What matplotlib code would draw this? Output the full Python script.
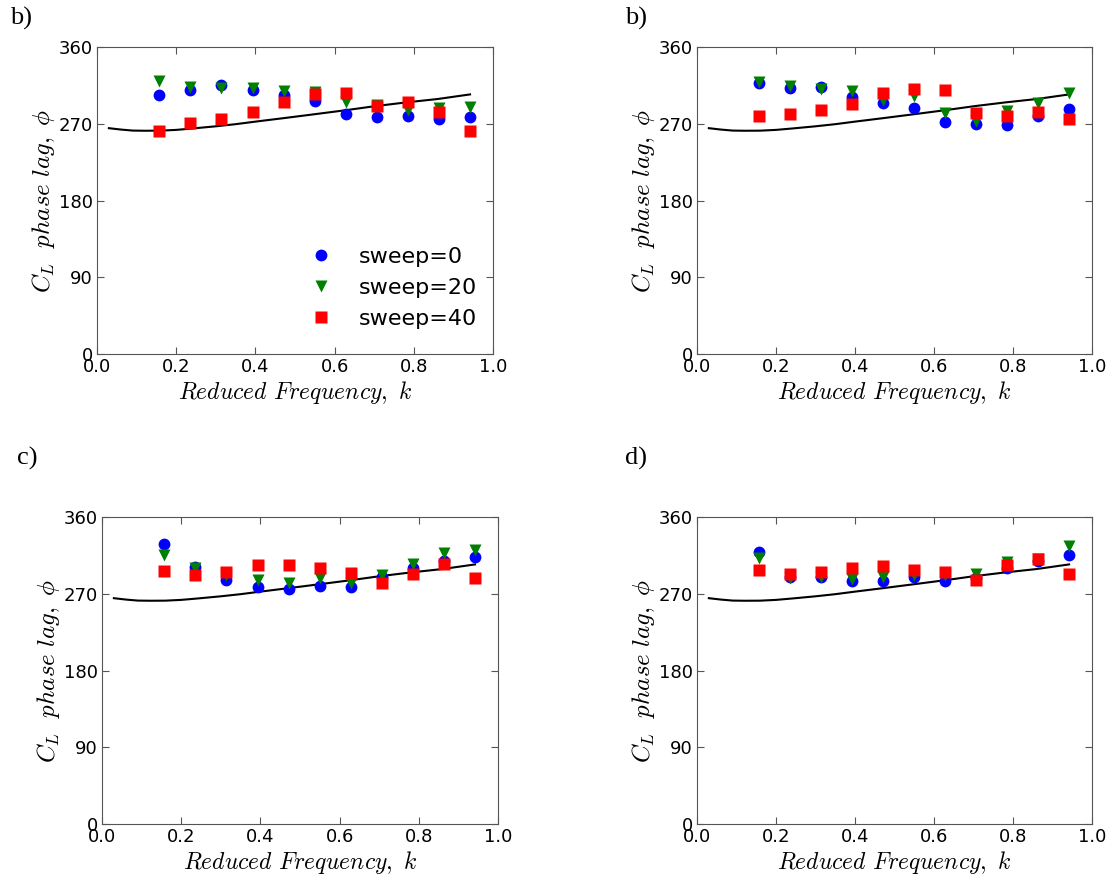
import matplotlib
matplotlib.use("Agg")
import matplotlib.pyplot as plt

plt.rcParams["mathtext.fontset"] = "cm"
plt.rcParams["font.family"] = "DejaVu Sans"

# reduced frequencies of the measurements
k = [0.157, 0.236, 0.314, 0.393, 0.471, 0.550, 0.628, 0.707, 0.785, 0.864, 0.942]

# theory curve
k_theory = [0.03, 0.06, 0.09, 0.12, 0.16, 0.20, 0.24, 0.30, 0.35, 0.40, 0.47,
            0.55, 0.63, 0.70, 0.78, 0.86, 0.942]
phi_theory = [264.8, 263.2, 262.0, 261.8, 261.9, 262.8, 264.4, 267.0, 269.5,
              272.5, 276.5, 281.2, 286.0, 290.5, 295.0, 299.0, 304.4]

# panel labels
labels = ["b)", "b)", "c)", "d)"]

# phase lag per panel: sweep=0, sweep=20, sweep=40
s0 = [
    [303.6, 310.0, 315.4, 309.5, 303.6, 297.0, 282.0, 278.0, 279.0, 276.0, 277.5],
    [317.7, 311.8, 313.0, 301.0, 294.0, 288.0, 272.0, 270.0, 269.0, 278.6, 287.0],
    [328.0, 301.0, 286.4, 277.4, 275.4, 278.6, 277.4, 290.0, 300.0, 308.0, 312.6],
    [318.9, 289.5, 289.5, 284.4, 284.4, 289.5, 284.4, 288.0, 300.0, 308.0, 315.7],
]
s20 = [
    [320.0, 312.6, 312.0, 312.0, 308.7, 307.0, 295.0, 292.0, 286.0, 289.0, 290.0],
    [318.5, 313.8, 310.6, 308.0, 298.0, 302.0, 282.5, 272.7, 284.4, 294.0, 306.0],
    [315.7, 300.0, 292.0, 285.6, 282.5, 288.3, 283.0, 292.0, 305.0, 317.7, 321.6],
    [311.8, 288.3, 290.0, 287.0, 290.0, 292.0, 292.0, 293.4, 306.7, 310.6, 325.5],
]
s40 = [
    [261.4, 271.0, 275.5, 284.0, 295.0, 304.8, 305.6, 291.0, 295.8, 284.0, 261.4],
    [278.6, 281.7, 285.6, 293.0, 306.0, 310.6, 309.0, 282.5, 279.3, 283.6, 275.8],
    [297.0, 292.0, 296.0, 304.0, 304.0, 300.0, 294.0, 283.0, 293.4, 304.8, 288.3],
    [297.3, 293.4, 296.0, 300.0, 302.8, 298.0, 295.0, 286.4, 304.0, 311.0, 293.0],
]

fig = plt.figure(figsize=(11.1, 8.82), dpi=100)
W, H = 1110.0, 882.0
# axes boxes in pixels: left, top, right, bottom
boxes = [(97, 47, 493, 354), (697, 47, 1092, 354),
         (102, 517, 498, 824), (697, 517, 1092, 824)]
label_pos = [(10, 18), (625, 18), (17, 458), (625, 458)]

for i in range(4):
    l, t, r, b = boxes[i]
    ax = fig.add_axes([l / W, 1 - b / H, (r - l) / W, (b - t) / H])
    ax.plot(k_theory, phi_theory, color="black", lw=1.5, zorder=1)
    ax.plot(k, s0[i], "o", color="blue", mec="none", ms=8.5, label="sweep=0")
    ax.plot(k, s20[i], "v", color="green", mec="none", ms=8.5, label="sweep=20")
    ax.plot(k, s40[i], "s", color="red", mec="none", ms=8, label="sweep=40")
    ax.set_xlim(0, 1)
    ax.set_ylim(0, 360)
    ax.set_xticks([0, 0.2, 0.4, 0.6, 0.8, 1.0])
    ax.set_yticks([0, 90, 180, 270, 360])
    ax.set_xticklabels(["0.0", "0.2", "0.4", "0.6", "0.8", "1.0"])
    ax.tick_params(direction="in", top=True, right=True, length=5,
                   labelsize=13, pad=3, color="#555555")
    for sp in ax.spines.values():
        sp.set_color("#555555")
    ax.set_xlabel(r"$Reduced\ Frequency,\ k$", fontsize=17, labelpad=2)
    ax.set_ylabel(r"$C_L\ \ phase\ lag,\ \phi$", fontsize=18, labelpad=1)
    if i == 0:
        ax.legend(loc="lower right", bbox_to_anchor=(1.0, 0.03), frameon=False,
                  numpoints=1, fontsize=16, handletextpad=0.7,
                  borderaxespad=0.3, labelspacing=0.5)
    x0, y0 = label_pos[i]
    fig.text(x0 / W, 1 - y0 / H, labels[i], fontsize=19,
             family="Liberation Serif", va="center", ha="left")

fig.savefig("out.png", dpi=100)
